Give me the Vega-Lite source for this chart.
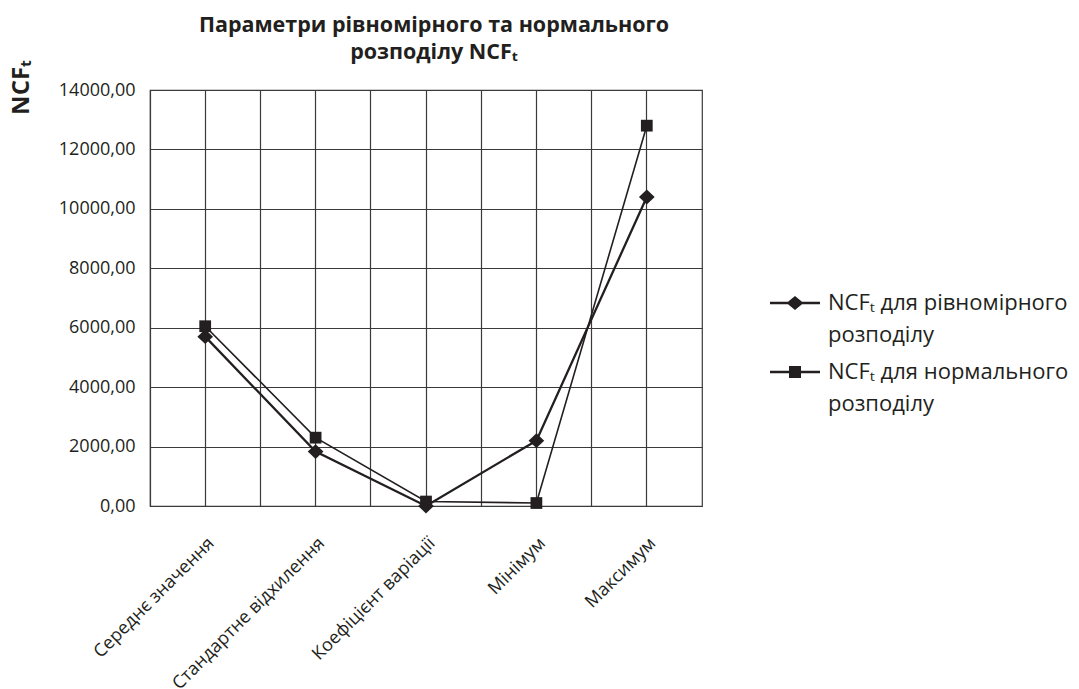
{
  "$schema": "https://vega.github.io/schema/vega-lite/v6.json",
  "width": 552,
  "height": 416,
  "autosize": {"type": "none"},
  "padding": {"left": 150, "top": 90, "right": 377, "bottom": 183},
  "background": "white",
  "config": {
    "font": "Open Sans",
    "view": {"stroke": "#3a3a3a", "strokeWidth": 1.2},
    "axis": {"gridColor": "#3a3a3a", "gridOpacity": 1, "gridWidth": 1.2, "labelColor": "#231f20", "titleColor": "#231f20"},
    "style": {"guide-label": {"lineHeight": 32}}
  },
  "title": {
    "text": ["Параметри рівномірного та нормального", "розподілу NCFₜ"],
    "fontSize": 21.5,
    "fontWeight": "bold",
    "lineHeight": 27,
    "anchor": "middle",
    "offset": -4,
    "dx": 8,
    "color": "#231f20"
  },
  "data": {
    "values": [
      {"param": "Середнє значення", "series": "NCFₜ для рівномірного розподілу", "value": 5700},
      {"param": "Стандартне відхилення", "series": "NCFₜ для рівномірного розподілу", "value": 1830},
      {"param": "Коефіцієнт варіації", "series": "NCFₜ для рівномірного розподілу", "value": 0},
      {"param": "Мінімум", "series": "NCFₜ для рівномірного розподілу", "value": 2200},
      {"param": "Максимум", "series": "NCFₜ для рівномірного розподілу", "value": 10400},
      {"param": "Середнє значення", "series": "NCFₜ для нормального розподілу", "value": 6050},
      {"param": "Стандартне відхилення", "series": "NCFₜ для нормального розподілу", "value": 2300},
      {"param": "Коефіцієнт варіації", "series": "NCFₜ для нормального розподілу", "value": 150},
      {"param": "Мінімум", "series": "NCFₜ для нормального розподілу", "value": 100},
      {"param": "Максимум", "series": "NCFₜ для нормального розподілу", "value": 12800}
    ]
  },
  "encoding": {
    "y": {
      "field": "value",
      "type": "quantitative",
      "scale": {"domain": [0, 14000], "nice": false, "zero": true},
      "axis": {
        "title": "NCFₜ",
        "values": [0, 2000, 4000, 6000, 8000, 10000, 12000, 14000],
        "labelExpr": "replace(format(datum.value, '.2f'), '.', ',')",
        "labelFontSize": 18,
        "labelPadding": 15,
        "ticks": false,
        "domain": false,
        "grid": true,
        "titleFontSize": 24,
        "titleFontWeight": "bold",
        "titleX": -129,
        "titleY": -3,
        "titleAlign": "center",
        "titleBaseline": "middle",
        "titleAngle": 270
      }
    }
  },
  "layer": [
    {
      "transform": [{"filter": "datum.series == 'NCFₜ для рівномірного розподілу'"}],
      "mark": {"type": "line", "color": "#231f20", "strokeWidth": 2.3},
      "encoding": {
        "x": {
          "field": "param",
          "type": "nominal",
          "sort": null,
          "bandPosition": 0.5,
          "scale": {"type": "band", "paddingInner": 0, "paddingOuter": 0},
          "axis": {
            "title": null,
            "labelAngle": -45,
            "labelFontSize": 18,
            "labelPadding": 28,
            "labelLimit": 0,
            "ticks": false,
            "domain": false,
            "grid": true,
            "bandPosition": 0.5
          }
        }
      }
    },
    {
      "transform": [{"filter": "datum.series == 'NCFₜ для нормального розподілу'"}],
      "mark": {"type": "line", "color": "#231f20", "strokeWidth": 1.6},
      "encoding": {
        "x": {"field": "param", "type": "nominal", "sort": null, "bandPosition": 0.5, "axis": null}
      }
    },
    {
      "mark": {"type": "point", "filled": true, "color": "#231f20", "opacity": 1, "size": 246},
      "encoding": {
        "x": {
          "field": "param",
          "type": "nominal",
          "sort": null,
          "bandPosition": 0.5,
          "axis": {
            "orient": "top",
            "title": null,
            "labels": false,
            "ticks": false,
            "domain": false,
            "grid": true,
            "bandPosition": 0
          }
        },
        "shape": {
          "field": "series",
          "type": "nominal",
          "scale": {
            "domain": ["NCFₜ для рівномірного розподілу", "NCFₜ для нормального розподілу"],
            "range": ["M0,-0.95L1,0L0,0.95L-1,0Z", "M-0.75,-0.75L0.75,-0.75L0.75,0.75L-0.75,0.75Z"]
          },
          "legend": null
        }
      }
    },
    {
      "mark": {"type": "point", "filled": true, "color": "#231f20", "opacity": 0},
      "encoding": {
        "x": {"field": "param", "type": "nominal", "sort": null, "bandPosition": 0.5, "axis": null},
        "shape": {
          "field": "series",
          "type": "nominal",
          "scale": {
            "domain": ["NCFₜ для рівномірного розподілу", "NCFₜ для нормального розподілу"],
            "range": [
              "M-1,-0.05L1,-0.05L1,0.05L-1,0.05ZM0,-0.28L0.34,0L0,0.28L-0.34,0Z",
              "M-1,-0.05L1,-0.05L1,0.05L-1,0.05ZM-0.24,-0.24L0.24,-0.24L0.24,0.24L-0.24,0.24Z"
            ]
          },
          "legend": {
            "title": null,
            "orient": "none",
            "legendX": 619,
            "legendY": 187,
            "labelFontSize": 22,
            "labelColor": "#231f20",
            "labelLimit": 0,
            "labelOffset": 7,
            "symbolSize": 2500,
            "symbolFillColor": "#231f20",
            "symbolOpacity": 1,
            "rowPadding": -12,
            "labelExpr": "[slice(datum.label, 0, lastindexof(datum.label, ' ')), slice(datum.label, lastindexof(datum.label, ' ') + 1)]"
          }
        }
      }
    }
  ],
  "resolve": {"axis": {"x": "independent"}, "scale": {"shape": "independent"}}
}
